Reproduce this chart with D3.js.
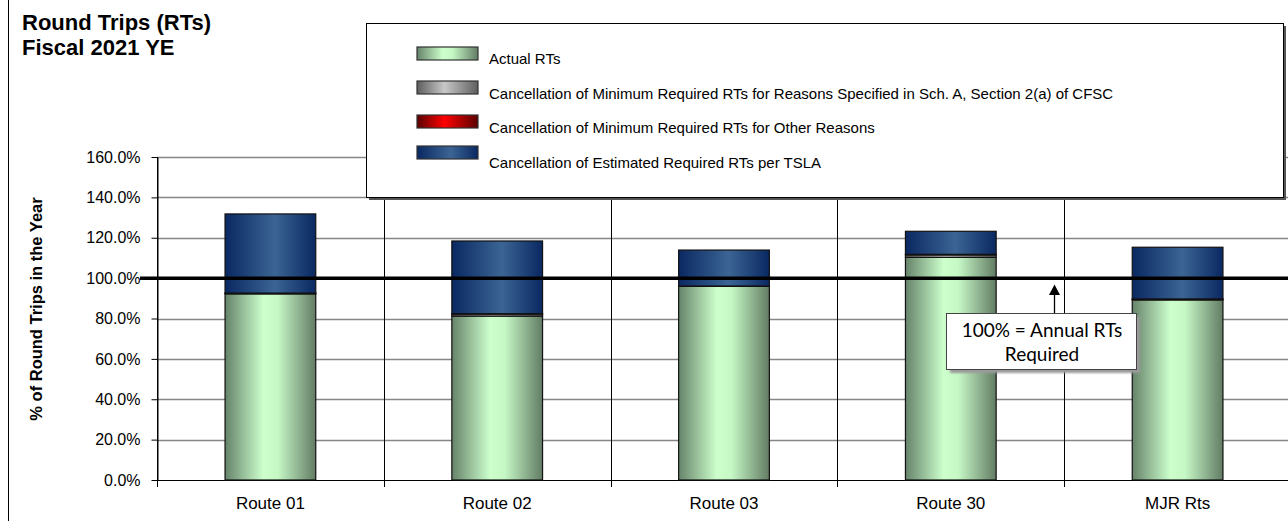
<!DOCTYPE html>
<html>
<head>
<meta charset="utf-8">
<script src="https://cdnjs.cloudflare.com/ajax/libs/d3/7.8.5/d3.min.js"></script>
<style>
body{margin:0;background:#fff;}
svg{display:block;font-family:"Liberation Sans",Arial,sans-serif;}
</style>
</head>
<body>
<div id="chart"></div>
<script>
// chart data
var categories = ['Route 01','Route 02','Route 03','Route 30','MJR Rts'];
var actualRTs   = [92.2, 81.2, 95.9, 110.3, 89.2];
var cancelSchA  = [0.3, 1.0, 0.2, 1.2, 0.4];
var cancelOther = [0.1, 0.2, 0.0, 0.3, 0.1];
var cancelTSLA  = [39.2, 36.0, 17.8, 11.4, 25.6];
var seriesKeys  = ['actual','schA','other','tsla'];
var seriesNames = ['Actual RTs',
	'Cancellation of Minimum Required RTs for Reasons Specified in Sch. A, Section 2(a) of CFSC',
	'Cancellation of Minimum Required RTs for Other Reasons',
	'Cancellation of Estimated Required RTs per TSLA'];
var yTicks = [0,20,40,60,80,100,120,140,160];
var requiredLevel = 100;

var width = 1288, height = 532;
var plot = {left:157, top:157, bottom:480, right:1291};

var rows = categories.map(function(c,i){
	return {cat:c, actual:actualRTs[i], schA:cancelSchA[i], other:cancelOther[i], tsla:cancelTSLA[i]};
});
var stacked = d3.stack().keys(seriesKeys)(rows);

var svg = d3.select('#chart').append('svg')
	.attr('width',width).attr('height',height);

///***** gradients for the bar fills *****///
var gradStops = {
	actual:[['0%','#66836a'],['42%','#ccffcc'],['58%','#c6f8c6'],['100%','#627c64']],
	schA:[['0%','#5e5e5e'],['45%','#c8c8c8'],['100%','#5e5e5e']],
	other:[['0%','#5a0000'],['45%','#ff0000'],['100%','#5a0000']],
	tsla:[['0%','#0a2862'],['55%','#3b6594'],['100%','#0a2862']]
};
var defs = svg.append('defs');
seriesKeys.forEach(function(k){
	var g = defs.append('linearGradient').attr('id','grad-'+k)
		.attr('x1','0%').attr('x2','100%').attr('y1','0%').attr('y2','0%');
	gradStops[k].forEach(function(s){
		g.append('stop').attr('offset',s[0]).attr('stop-color',s[1]);
	});
});
var blur = defs.append('filter').attr('id','soft');
blur.append('feGaussianBlur').attr('stdDeviation',1.2);

///***** scales *****///
var x = d3.scaleBand().domain(categories)
	.range([plot.left,plot.right]).paddingInner(0.6).paddingOuter(0.3);
var y = d3.scaleLinear().domain([0,160]).range([plot.bottom,plot.top]);

// outer chart border (left edge visible)
svg.append('line').attr('x1',8.5).attr('x2',8.5).attr('y1',0).attr('y2',521)
	.attr('stroke','#000');

// horizontal grid
svg.append('g').selectAll('line').data(yTicks.filter(function(d){return d>0;}))
	.join('line')
	.attr('x1',plot.left).attr('x2',width)
	.attr('y1',function(d){return Math.round(y(d))+0.5;})
	.attr('y2',function(d){return Math.round(y(d))+0.5;})
	.attr('stroke','#868686').attr('stroke-width',1.3);

// vertical category separators, running down past the axis as ticks
var step = x.step();
var bounds = d3.range(categories.length+1).map(function(i){return plot.left+i*step;});
svg.append('g').selectAll('line').data(bounds).join('line')
	.attr('x1',function(d){return Math.round(d)+0.5;})
	.attr('x2',function(d){return Math.round(d)+0.5;})
	.attr('y1',plot.top).attr('y2',plot.bottom+7)
	.attr('stroke','#000').attr('stroke-width',1);

///***** y axis *****///
var yAxis = svg.append('g').attr('transform','translate('+(plot.left+0.5)+',0)')
	.call(d3.axisLeft(y).tickValues(yTicks).tickSize(6).tickSizeOuter(0).tickPadding(11)
		.tickFormat(function(d){return d.toFixed(1)+'%';}));
yAxis.select('.domain').attr('stroke','#000');
yAxis.selectAll('.tick line').attr('stroke','#000');
yAxis.selectAll('.tick text').attr('font-size',16).attr('fill','#000')
	.attr('font-family','"Liberation Sans",Arial,sans-serif');

// x axis line
svg.append('line').attr('x1',plot.left).attr('x2',width)
	.attr('y1',plot.bottom+0.5).attr('y2',plot.bottom+0.5).attr('stroke','#000');

svg.append('g').selectAll('text').data(categories).join('text')
	.attr('x',function(d){return x(d)+x.bandwidth()/2;})
	.attr('y',509).attr('text-anchor','middle').attr('font-size',17)
	.text(function(d){return d;});

///***** bars *****///
svg.append('g').selectAll('g').data(stacked).join('g')
	.attr('fill',function(d){return 'url(#grad-'+d.key+')';})
	.selectAll('rect').data(function(d){return d.filter(function(p){return p[1]-p[0]>0;});})
	.join('rect')
	.attr('x',function(d){return x(d.data.cat);})
	.attr('width',x.bandwidth())
	.attr('y',function(d){return y(d[1]);})
	.attr('height',function(d){return y(d[0])-y(d[1]);})
	.attr('stroke','#111').attr('stroke-width',1.2);

// 100% requirement line
svg.append('line').attr('x1',140).attr('x2',width)
	.attr('y1',y(requiredLevel)).attr('y2',y(requiredLevel))
	.attr('stroke','#000').attr('stroke-width',3.5);

///***** legend *****///
var lg = svg.append('g');
lg.append('rect').attr('x',369).attr('y',26).attr('width',917).attr('height',174)
	.attr('fill','#555');
lg.append('rect').attr('x',366.5).attr('y',23.5).attr('width',917).attr('height',174)
	.attr('fill','#fff').attr('stroke','#000');
var swatchY = [47,81,115,146], textY = [63.5,98.5,132.5,167.5];
seriesKeys.forEach(function(k,i){
	lg.append('rect').attr('x',417).attr('y',swatchY[i]).attr('width',61).attr('height',13)
		.attr('fill','url(#grad-'+k+')').attr('stroke','#333').attr('stroke-width',1.2);
	lg.append('text').attr('x',489).attr('y',textY[i]).attr('font-size',15)
		.text(seriesNames[i]);
});

///***** callout *****///
var co = {x:946, y:313, w:190, h:56};
svg.append('rect').attr('x',co.x+4).attr('y',co.y+4).attr('width',co.w).attr('height',co.h)
	.attr('fill','#9a9a9a').attr('filter','url(#soft)');
svg.append('rect').attr('x',co.x+0.5).attr('y',co.y+0.5).attr('width',co.w).attr('height',co.h)
	.attr('fill','#fff').attr('stroke','#444');
svg.append('text').attr('x',co.x+co.w/2+1).attr('y',337).attr('text-anchor','middle')
	.attr('font-family','Lato,"Open Sans",sans-serif').attr('font-size',19)
	.text('100% = Annual RTs');
svg.append('text').attr('x',co.x+co.w/2+1).attr('y',361).attr('text-anchor','middle')
	.attr('font-family','Lato,"Open Sans",sans-serif').attr('font-size',19)
	.text('Required');
svg.append('line').attr('x1',1054.5).attr('x2',1054.5).attr('y1',co.y).attr('y2',294)
	.attr('stroke','#000').attr('stroke-width',1.3);
svg.append('path').attr('d','M1049,295L1054.5,284.5L1060,295Z').attr('fill','#000');

///***** titles *****///
svg.append('text').attr('x',22).attr('y',30).attr('font-size',22).attr('font-weight','bold')
	.text('Round Trips (RTs)');
svg.append('text').attr('x',22).attr('y',54.5).attr('font-size',22).attr('font-weight','bold')
	.text('Fiscal 2021 YE');
svg.append('text').attr('transform','translate(42,309) rotate(-90)')
	.attr('text-anchor','middle').attr('font-size',16.5).attr('font-weight','bold')
	.text('% of Round Trips in the Year');
</script>
</body>
</html>
